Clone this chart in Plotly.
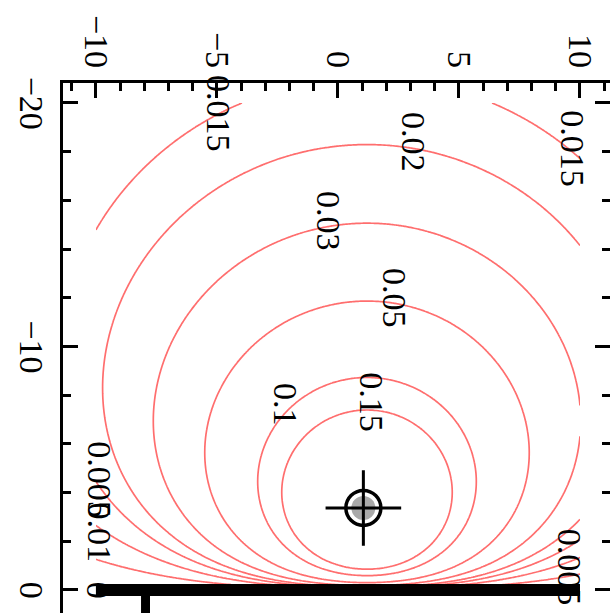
import numpy as np
import plotly.graph_objects as go

# Contour levels of the response field and their printed labels
levels = [0.005, 0.01, 0.015, 0.02, 0.03, 0.05, 0.1, 0.15]
level_labels = ["0.005", "0.01", "0.015", "0.02", "0.03", "0.05", "0.1", "0.15"]

# Point source below an absorbing surface at y = 0 (mirror image above it)
source_x = 1.2
source_depth = 3.4
source_strength = 0.95

# Target location (crosshair)
target_x = [1.05]
target_y = [-3.37]

# Axis ticks
x_ticks = [-10, -5, 0, 5, 10]
y_ticks = [-20, -10, 0]
y_tick_text = ["\u221220", "\u221210", "0"]

# Model grid extent
grid_x = (-10.0, 10.0)
grid_y = (-20.0, 0.0)

# Surface line and well stub
surface_x = [-10.0, 10.0]
well_x = -7.95

# ---------------------------------------------------------------------------
xs = np.linspace(grid_x[0], grid_x[1], 241)
ys = np.linspace(grid_y[0], grid_y[1], 241)
X, Y = np.meshgrid(xs, ys)
r1 = np.hypot(X - source_x, Y + source_depth)
r2 = np.hypot(X - source_x, Y - source_depth)
Z = source_strength * (1.0 / r1 - 1.0 / r2)
Z = np.minimum(Z, 5.0)

LINE_RED = "rgb(255,110,110)"
SERIF = "Liberation Serif"
FS = 34

fig = go.Figure()

for lv in levels:
    fig.add_trace(go.Contour(
        x=xs, y=ys, z=Z,
        autocontour=False,
        contours=dict(start=lv, end=lv, size=1.0, coloring="none", showlabels=False),
        line=dict(color=LINE_RED, width=1.7),
        showscale=False, hoverinfo="skip",
    ))

# label placement (data coordinates) for each contour label
label_spots = [
    ("0.015", -4.96, -19.55),
    ("0.015", 9.71, -18.1),
    ("0.02", 3.1, -18.4),
    ("0.03", -0.37, -15.15),
    ("0.05", 2.31, -12.0),
    ("0.1", -2.19, -7.6),
    ("0.15", 1.40, -7.72),
    ("0.005", -9.85, -4.52),
    ("0.01", -9.85, -2.38),
    ("0.005", 9.55, -0.95),
]
annotations = []
for text, ax_, ay_ in label_spots:
    assert text in level_labels
    annotations.append(dict(
        x=ax_, y=ay_, xref="x", yref="y", text=text, showarrow=False,
        textangle=90, font=dict(family=SERIF, size=FS, color="black"),
    ))
# leading digit of a label running off the lower edge
annotations.append(dict(
    x=-9.9, y=0.0, xref="x", yref="y", text="0", showarrow=False,
    textangle=90, font=dict(family=SERIF, size=FS, color="black"),
))
# left-hand tick labels, turned like the rest of the text
for val, txt in zip(y_ticks, y_tick_text):
    annotations.append(dict(
        x=-0.058, y=val, xref="paper", yref="y", text=txt, showarrow=False,
        xanchor="center", yanchor="middle", textangle=90,
        font=dict(family=SERIF, size=FS, color="black"),
    ))

# surface bar and well stub
shapes = [
    dict(type="line", xref="x", yref="y", x0=surface_x[0], x1=surface_x[1],
         y0=0, y1=0, line=dict(color="black", width=12)),
    dict(type="line", xref="x", yref="y", x0=well_x, x1=well_x,
         y0=0, y1=1.2, line=dict(color="black", width=9)),
]

# crosshair target marker
fig.add_trace(go.Scatter(x=target_x, y=target_y, mode="markers", hoverinfo="skip",
                         marker=dict(symbol="circle", size=24, color="#a9a9a9",
                                     line=dict(width=0))))
fig.add_trace(go.Scatter(x=target_x, y=target_y, mode="markers", hoverinfo="skip",
                         marker=dict(symbol="circle-open", size=35, color="black",
                                     line=dict(width=3.5, color="black"))))
fig.add_trace(go.Scatter(x=target_x, y=target_y, mode="markers", hoverinfo="skip",
                         marker=dict(symbol="cross-thin-open", size=54, color="black",
                                     line=dict(width=3, color="black"))))
# invisible trace to carry the right-hand tick axis
fig.add_trace(go.Scatter(x=[0], y=[-10], yaxis="y2", mode="markers",
                         marker=dict(opacity=0), hoverinfo="skip"))

tickfont = dict(family=SERIF, size=FS, color="black")
common = dict(ticks="inside", ticklen=15, tickwidth=3, tickcolor="black",
              showgrid=False, zeroline=False)

fig.update_layout(
    width=610, height=613,
    margin=dict(l=63, r=0, t=83, b=0),
    paper_bgcolor="white", plot_bgcolor="white",
    showlegend=False,
    annotations=annotations,
    shapes=shapes,
    xaxis=dict(side="top", range=[-11.36, 11.24], tickmode="array", tickvals=x_ticks,
               tickangle=90, tickfont=tickfont, showline=True, linewidth=3,
               linecolor="black",
               minor=dict(tickmode="linear", tick0=0, dtick=1, ticks="inside",
                          ticklen=8, tickwidth=3, tickcolor="black"),
               **common),
    yaxis=dict(range=[0.945, -20.82], tickmode="array", tickvals=y_ticks,
               showticklabels=False, showline=True, linewidth=3,
               linecolor="black",
               minor=dict(tickmode="linear", tick0=0, dtick=2, ticks="inside",
                          ticklen=8, tickwidth=3, tickcolor="black"),
               **common),
    yaxis2=dict(overlaying="y", side="right", range=[0.945, -20.82],
                tickmode="array", tickvals=y_ticks, showticklabels=False,
                showline=False,
                minor=dict(tickmode="linear", tick0=0, dtick=2, ticks="inside",
                           ticklen=8, tickwidth=3, tickcolor="black"),
                **common),
)

fig.write_html("out.html")
